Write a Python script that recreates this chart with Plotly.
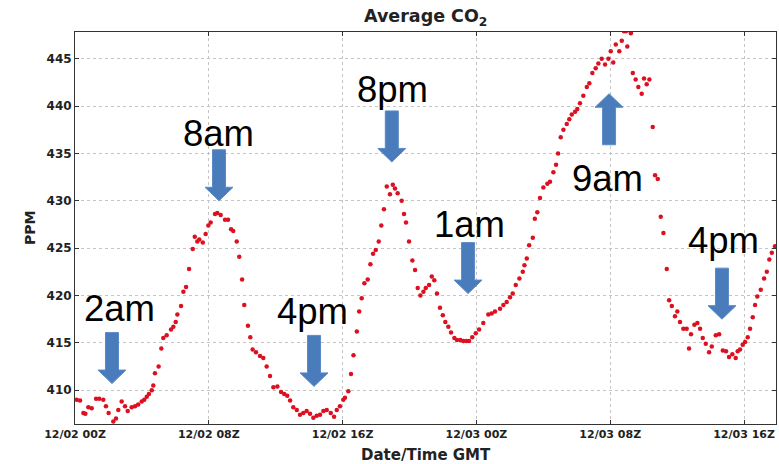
import pandas as pd
import plotly.graph_objects as go

# ---- data (hours since 12/02 00Z, average CO2 in ppm) ----
start = pd.Timestamp("2013-12-02 00:00")
hours = [0.10, 0.30, 0.50, 0.62, 0.80, 1.00, 1.26, 1.45, 1.69, 1.85,
         2.01, 2.29, 2.45, 2.59, 2.79, 2.99, 3.15, 3.39, 3.59, 3.78,
         3.99, 4.14, 4.29, 4.42, 4.59, 4.68, 4.78, 5.00, 5.16, 5.28,
         5.48, 5.74, 5.88, 6.02, 6.12, 6.34, 6.48, 6.64, 6.82, 7.04,
         7.16, 7.31, 7.43, 7.64, 7.81, 7.97, 8.11, 8.37, 8.51, 8.71,
         8.97, 9.15, 9.33, 9.46, 9.67, 9.82, 9.99, 10.12, 10.34, 10.48,
         10.62, 10.82, 11.06, 11.26, 11.46, 11.66, 11.86, 12.10, 12.32, 12.51,
         12.69, 12.86, 13.05, 13.26, 13.45, 13.65, 13.85, 14.05, 14.25, 14.45,
         14.65, 14.85, 15.05, 15.29, 15.49, 15.65, 15.84, 16.04, 16.14, 16.34,
         16.50, 16.65, 16.85, 16.99, 17.14, 17.30, 17.50, 17.66, 17.82, 17.98,
         18.16, 18.31, 18.47, 18.64, 18.83, 19.00, 19.13, 19.29, 19.53, 19.67,
         19.79, 19.97, 20.17, 20.33, 20.49, 20.65, 20.83, 20.97, 21.17, 21.33,
         21.48, 21.64, 21.82, 21.99, 22.14, 22.32, 22.48, 22.68, 22.84, 23.04,
         23.22, 23.40, 23.56, 23.75, 23.96, 24.16, 24.41, 24.71, 24.91, 25.11,
         25.41, 25.61, 25.81, 26.01, 26.17, 26.35, 26.57, 26.77, 26.87, 27.01,
         27.15, 27.37, 27.49, 27.64, 27.80, 28.00, 28.24, 28.40, 28.60, 28.76,
         28.88, 29.04, 29.20, 29.40, 29.55, 29.70, 29.90, 30.03, 30.19, 30.39,
         30.60, 30.75, 30.93, 31.13, 31.29, 31.49, 31.69, 31.89, 32.03, 32.18,
         32.33, 32.54, 32.69, 32.82, 32.94, 33.02, 33.23, 33.35, 33.52, 33.68,
         33.88, 34.02, 34.18, 34.34, 34.54, 34.68, 34.84, 35.02, 35.18, 35.38,
         35.52, 35.68, 35.87, 36.01, 36.17, 36.37, 36.57, 36.71, 36.83, 37.03,
         37.21, 37.37, 37.53, 37.71, 37.91, 38.07, 38.31, 38.51, 38.73, 38.92,
         39.10, 39.30, 39.50, 39.62, 39.76, 39.92, 40.06, 40.22, 40.36, 40.52,
         40.66, 40.79, 41.00, 41.20, 41.36, 41.51, 41.66, 41.85]
ppm = [409.0, 408.9, 407.6, 407.5, 408.2, 408.1, 409.1, 409.1, 409.0, 408.3,
       407.6, 406.7, 407.0, 407.9, 408.8, 408.3, 407.8, 408.2, 408.3, 408.5,
       408.8, 409.0, 409.3, 409.6, 410.0, 410.5, 411.8, 412.5, 414.4, 415.5,
       415.8, 416.4, 416.7, 417.2, 418.0, 418.9, 420.4, 420.9, 422.8, 424.9,
       426.2, 425.7, 425.9, 425.6, 426.5, 427.4, 427.7, 428.6, 428.7, 428.5,
       428.0, 428.0, 427.0, 426.8, 425.7, 424.1, 421.7, 419.0, 416.8, 415.6,
       414.3, 414.0, 413.6, 413.4, 412.5, 411.5, 410.3, 410.4, 409.8, 409.6,
       409.4, 408.9, 408.2, 407.9, 407.4, 407.6, 407.8, 407.5, 407.1, 407.3,
       407.4, 407.8, 407.9, 407.6, 407.2, 407.9, 408.3, 409.0, 409.2, 409.9,
       411.7, 413.7, 416.2, 418.3, 419.7, 421.3, 421.7, 423.3, 424.4, 424.8,
       425.7, 427.4, 429.1, 431.5, 430.7, 431.7, 431.3, 430.8, 430.0, 428.6,
       427.7, 425.7, 423.7, 422.7, 420.8, 420.0, 420.4, 420.8, 421.1, 422.0,
       421.6, 420.2, 418.7, 417.9, 417.2, 416.7, 416.1, 415.5, 415.3, 415.3,
       415.2, 415.2, 415.2, 415.6, 416.0, 416.4, 417.1, 418.0, 418.1, 418.3,
       418.6, 419.0, 419.3, 419.8, 420.2, 421.1, 421.8, 422.5, 423.2, 423.9,
       425.3, 426.1, 428.1, 428.8, 430.3, 431.4, 431.8, 432.0, 433.0, 433.8,
       435.0, 436.7, 437.5, 438.1, 438.6, 439.1, 439.4, 439.7, 440.3, 441.1,
       442.0, 442.4, 443.5, 444.0, 444.5, 445.0, 444.4, 445.0, 445.8, 444.6,
       446.5, 445.8, 446.9, 447.9, 447.9, 446.3, 447.7, 443.5, 442.8, 442.0,
       441.3, 442.9, 442.3, 442.8, 437.8, 432.7, 432.3, 428.3, 426.6, 422.8,
       419.5, 418.9, 417.8, 418.3, 417.2, 416.5, 416.5, 414.4, 415.9, 416.9,
       417.1, 416.5, 415.5, 414.9, 414.0, 414.6, 415.8, 415.9, 414.2, 414.1,
       413.5, 413.8, 413.4, 414.1, 414.3, 414.8, 415.1, 415.6, 416.5, 417.7,
       419.0, 419.9, 420.6, 421.8, 422.5, 423.8, 424.5, 425.2]

tick_hours = [0, 8, 16, 24, 32, 40]
tick_labels = ["12/02 00Z", "12/02 08Z", "12/02 16Z", "12/03 00Z", "12/03 08Z", "12/03 16Z"]
y_ticks = [410, 415, 420, 425, 430, 435, 440, 445]

# annotation arrows: time (hours), tip value (ppm), direction, label
arrow_hours = [2.21, 8.61, 14.29, 18.94, 23.50, 31.93, 38.68]
arrow_tips = [410.7, 430.0, 410.4, 434.1, 420.2, 441.3, 417.5]
arrow_dirs = ["down", "down", "down", "down", "down", "up", "down"]
arrow_labels = ["2am", "8am", "4pm", "8pm", "1am", "9am", "4pm"]

x_range_hours = [0, 41.91]
y_range = [406.43, 447.82]

# ---- figure ----
times = start + pd.to_timedelta(hours, unit="h")
fig = go.Figure()
fig.add_trace(go.Scatter(
    x=times, y=ppm, mode="markers",
    marker=dict(size=4.5, color="#dc1020", line=dict(width=0)),
    showlegend=False, cliponaxis=True))

W, H = 779, 464
ml, mr, mt, mb = 75, 3, 32, 40
pw, ph = W - ml - mr, H - mt - mb

tick_font = dict(family="DejaVu Sans", size=11, color="#222", weight="bold")
fig.update_layout(
    width=W, height=H,
    margin=dict(l=ml, r=mr, t=mt, b=mb, pad=0),
    paper_bgcolor="white", plot_bgcolor="white",
    font=dict(family="DejaVu Sans", color="#222"),
    xaxis=dict(
        range=[start + pd.Timedelta(hours=x_range_hours[0]),
               start + pd.Timedelta(hours=x_range_hours[1])],
        tickmode="array",
        tickvals=[start + pd.Timedelta(hours=h) for h in tick_hours],
        ticktext=tick_labels,
        ticks="inside", ticklen=4, tickcolor="#333",
        showline=True, linecolor="#333", linewidth=1, mirror="ticks",
        showgrid=True, gridcolor="#c4c4c4", griddash="dot", gridwidth=1,
        zeroline=False, tickfont=tick_font),
    yaxis=dict(
        range=y_range, tickmode="array", tickvals=y_ticks,
        ticks="inside", ticklen=4, tickcolor="#333",
        showline=True, linecolor="#333", linewidth=1, mirror="ticks",
        showgrid=True, gridcolor="#c4c4c4", griddash="dot", gridwidth=1,
        zeroline=False, tickfont=dict(family="DejaVu Sans", size=12, color="#222", weight="bold")),
)

# titles
fig.add_annotation(text="Average CO<sub>2</sub>", xref="paper", yref="paper",
                   x=0.5, y=1 + (mt - 17) / ph, xanchor="center", yanchor="middle",
                   showarrow=False, font=dict(family="DejaVu Sans", size=17.5, color="#222", weight="bold"))
fig.add_annotation(text="PPM", xref="paper", yref="paper", textangle=-90,
                   x=(30 - ml) / pw, y=0.5, xanchor="center", yanchor="middle",
                   showarrow=False, font=dict(family="DejaVu Sans", size=14, color="#222", weight="bold"))
fig.add_annotation(text="Date/Time GMT", xref="paper", yref="paper",
                   x=0.5, y=-(454.5 - (H - mb)) / ph, xanchor="center", yanchor="middle",
                   showarrow=False, font=dict(family="DejaVu Sans", size=15, color="#222", weight="bold"))

# block arrows and labels
label_shift = {"2am": (8, 75), "8am": (-1, 67), "8pm": (1, 72), "1am": (1.5, 69), "9am": (-1.5, -85)}
for i, (h, v, d, lab) in enumerate(zip(arrow_hours, arrow_tips, arrow_dirs, arrow_labels)):
    s = 1 if d == "down" else -1
    path = ("M 0 0 L -14 {a} L -6.5 {a} L -6.5 {b} L 6.5 {b} L 6.5 {a} L 14 {a} Z"
            .format(a=13.5 * s, b=51 * s))
    t = start + pd.Timedelta(hours=h)
    fig.add_shape(type="path", path=path, xsizemode="pixel", ysizemode="pixel",
                  xanchor=t, yanchor=v, xref="x", yref="y",
                  fillcolor="#4a7cbc", line=dict(color="#5a8ac6", width=1), layer="above")
    dx, dy = label_shift.get(lab, (-1.5, 74.5))
    if i == 6:
        dx, dy = (1.8, 79)
    fig.add_annotation(text=lab, x=t, y=v, xref="x", yref="y", showarrow=False,
                       xanchor="center", yanchor="middle", xshift=dx, yshift=dy,
                       font=dict(family="Liberation Sans", size=36.5, color="black"))

fig.write_html("out.html", config={"displayModeBar": False},
               post_script="document.body.style.margin='0';document.body.style.overflow='hidden';")
